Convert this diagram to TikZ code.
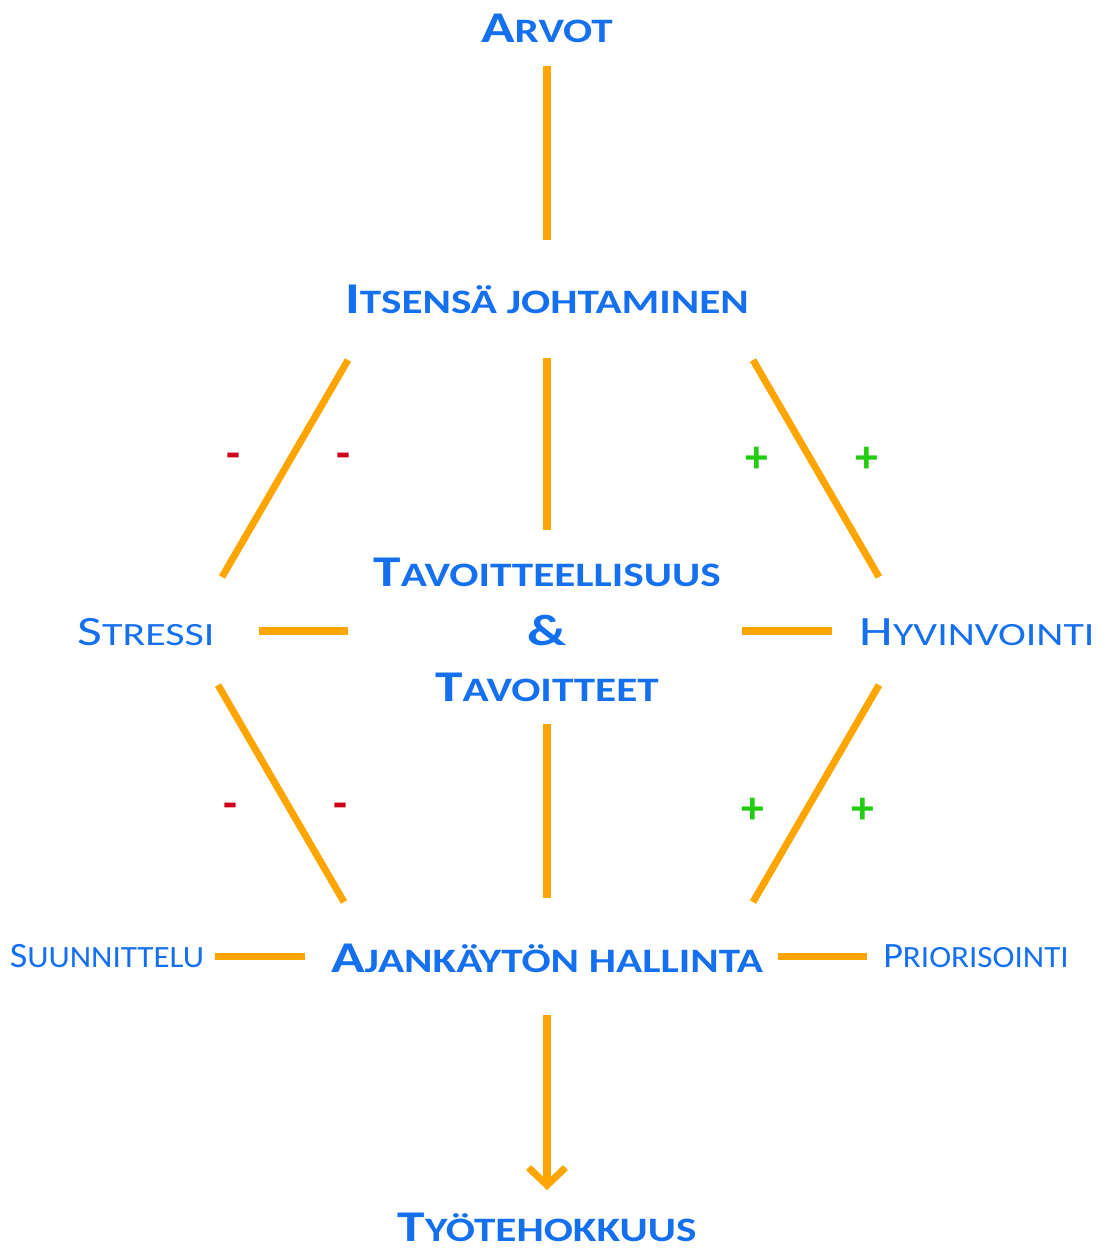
\documentclass[tikz,border=0pt]{standalone}
\usepackage{fontspec}
\usepackage{graphicx}
\setmainfont{Carlito}
\definecolor{ttl}{HTML}{1570EF}
\definecolor{lnk}{HTML}{FFA500}
\definecolor{neg}{HTML}{D0021B}
\definecolor{pos}{HTML}{22CC11}
\usetikzlibrary{arrows.meta}
\newcommand{\bsc}[2]{\scalebox{1.26}[1]{{\fontsize{25}{30}\selectfont #1}{\fontsize{19.5}{30}\selectfont #2}}}
\newcommand{\msc}[2]{\scalebox{1.29}[1]{{\fontsize{23.8}{28}\selectfont #1}{\fontsize{18.5}{28}\selectfont #2}}}
\newcommand{\ssc}[2]{\scalebox{1.07}[1]{{\fontsize{20.3}{24}\selectfont #1}{\fontsize{17.6}{24}\selectfont #2}}}

\begin{document}
\begin{tikzpicture}[x=0.02cm, y=0.02cm,
  head/.style={text=ttl, font=\bfseries, anchor=base, inner sep=0pt},
  side/.style={text=ttl, anchor=base, inner sep=0pt},
  link/.style={draw=lnk, line width=4pt},
  sign/.style={font={\fontsize{26}{26}\selectfont\bfseries}, inner sep=0pt},
]
\useasboundingbox (0,0) rectangle (1106,-1249);
\node[head] (arvot) at (547,-42) {\bsc{A}{RVOT}};
\node[head] (itsensa) at (547,-313) {\bsc{I}{TSENSÄ JOHTAMINEN}};
\node[head] (tavA) at (547,-586) {\bsc{T}{AVOITTEELLISUUS}};
\node[head] (amp) at (547,-645) {\bsc{\&}{}};
\node[head] (tavB) at (547,-701) {\bsc{T}{AVOITTEET}};
\node[side] (stressi) at (146,-645) {\msc{S}{TRESSI}};
\node[side] (hyvin) at (977,-645) {\msc{H}{YVINVOINTI}};
\node[head] (ajan) at (547,-972) {\bsc{A}{JANKÄYTÖN HALLINTA}};
\node[side] (suunn) at (107,-967) {\ssc{S}{UUNNITTELU}};
\node[side] (prior) at (976,-967) {\ssc{P}{RIORISOINTI}};
\node[head] (tyo) at (547,-1241) {\bsc{T}{YÖTEHOKKUUS}};
\node[sign, text=neg] (miA) at (233,-461) {-};
\node[sign, text=neg] (miB) at (343,-461) {-};
\node[sign, text=pos] (plA) at (757,-460) {+};
\node[sign, text=pos] (plB) at (867,-460) {+};
\node[sign, text=neg] (miC) at (230,-811) {-};
\node[sign, text=neg] (miD) at (340,-811) {-};
\node[sign, text=pos] (plC) at (753,-811) {+};
\node[sign, text=pos] (plD) at (863,-811) {+};

\draw[link] ([shift={(0,-24)}]arvot.base) -- ([shift={(0,73)}]itsensa.base);
\draw[link] ([shift={(0,-45)}]itsensa.base) -- ([shift={(0,56)}]tavA.base);
\draw[link] ([shift={(-199,-47)}]itsensa.base) -- ([shift={(76,68)}]stressi.base);
\draw[link] ([shift={(206,-47)}]itsensa.base) -- ([shift={(-98,68)}]hyvin.base);
\draw[link] ([shift={(113,14)}]stressi.base) -- ([shift={(-199,14)}]amp.base);
\draw[link] ([shift={(195,14)}]amp.base) -- ([shift={(-145,14)}]hyvin.base);
\draw[link] ([shift={(72,-40)}]stressi.base) -- ([shift={(-203,70)}]ajan.base);
\draw[link] ([shift={(-98,-40)}]hyvin.base) -- ([shift={(206,70)}]ajan.base);
\draw[link] ([shift={(0,-23)}]tavB.base) -- ([shift={(0,74)}]ajan.base);
\draw[link] ([shift={(108,11)}]suunn.base) -- ([shift={(-242,16)}]ajan.base);
\draw[link] ([shift={(231,16)}]ajan.base) -- ([shift={(-109,11)}]prior.base);
\draw[link, -{Straight Barb[length=10pt, width=21pt]}] ([shift={(0,-43)}]ajan.base) -- ([shift={(0,51)}]tyo.base);
\end{tikzpicture}
\end{document}
